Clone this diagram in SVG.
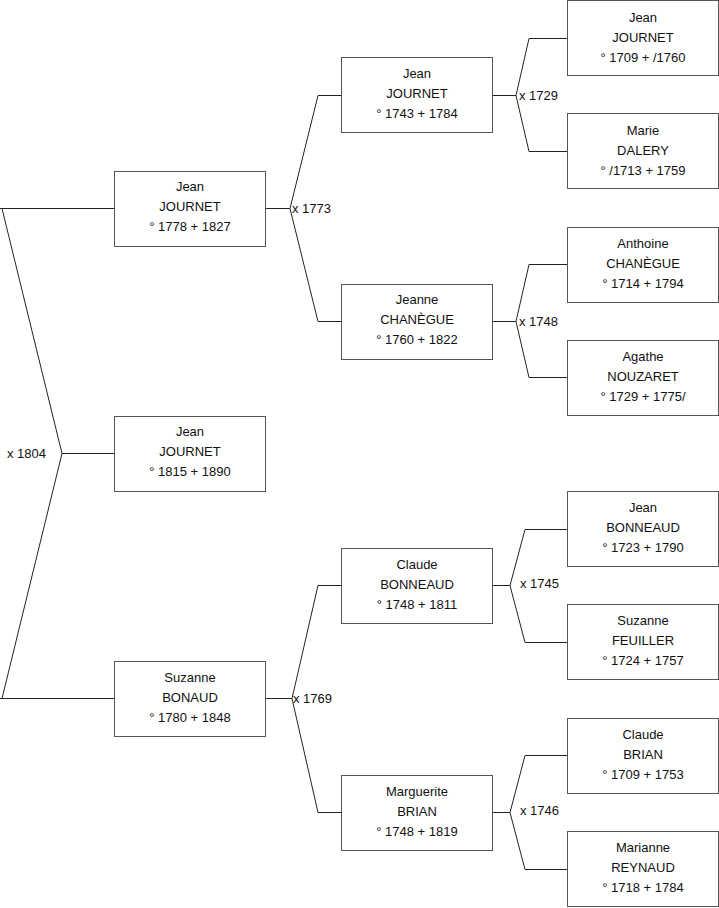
<svg xmlns="http://www.w3.org/2000/svg" width="719" height="908" viewBox="0 0 719 908">
<style>
.box rect{fill:#fff;stroke:#555;stroke-width:1}
.box text{font-family:"Liberation Sans",Arial,sans-serif;font-size:13px;fill:#111;text-anchor:middle}
.conn path{fill:none;stroke:#222;stroke-width:1}
.conn text{font-family:"Liberation Sans",Arial,sans-serif;font-size:13px;fill:#111}
</style>
<rect width="719" height="908" fill="#fff"/>
<g class="conn" id="connectors">
<path d="M0,208.5H114.5M2,208.5L62,453.5L2,698.5M0,698.5H114.5M62,453.5H114.5"/>
<text x="7" y="458">x 1804</text>
<path d="M265.5,208.5H290M318,95.5L290,208.5L318,321.5M318,95.5H341.5M318,321.5H341.5"/>
<text x="292" y="212.5">x 1773</text>
<path d="M265.5,698.5H292M318,585.5L292,698.5L318,812.5M318,585.5H341.5M318,812.5H341.5"/>
<text x="293" y="702.5">x 1769</text>
<path d="M492.5,95.5H516M529,38.5L516,95.5L529,151.5M529,38.5H567.5M529,151.5H567.5"/>
<text x="519" y="99.5">x 1729</text>
<path d="M492.5,321.5H516M529,264.5L516,321.5L529,377.5M529,264.5H567.5M529,377.5H567.5"/>
<text x="519" y="325.5">x 1748</text>
<path d="M492.5,585.5H510M525,529.5L510,585.5L525,642.5M525,529.5H567.5M525,642.5H567.5"/>
<text x="520" y="587.5">x 1745</text>
<path d="M492.5,812.5H510M525,755.5L510,812.5L525,869.5M525,755.5H567.5M525,869.5H567.5"/>
<text x="520" y="815">x 1746</text>
</g>
<g class="box" id="n-jean-1778"><rect x="114.5" y="171.5" width="151" height="75"/><text x="190" y="191">Jean</text><text x="190" y="211">JOURNET</text><text x="190" y="231">° 1778 + 1827</text></g>
<g class="box" id="n-jean-1815"><rect x="114.5" y="416.5" width="151" height="75"/><text x="190" y="436">Jean</text><text x="190" y="456">JOURNET</text><text x="190" y="476">° 1815 + 1890</text></g>
<g class="box" id="n-suzanne-1780"><rect x="114.5" y="661.5" width="151" height="75"/><text x="190" y="682">Suzanne</text><text x="190" y="702">BONAUD</text><text x="190" y="722">° 1780 + 1848</text></g>
<g class="box" id="n-jean-1743"><rect x="341.5" y="57.5" width="151" height="75"/><text x="417" y="77.5">Jean</text><text x="417" y="97.5">JOURNET</text><text x="417" y="117.5">° 1743 + 1784</text></g>
<g class="box" id="n-jeanne-1760"><rect x="341.5" y="284.5" width="151" height="75"/><text x="417" y="304">Jeanne</text><text x="417" y="324">CHANÈGUE</text><text x="417" y="344">° 1760 + 1822</text></g>
<g class="box" id="n-claude-1748"><rect x="341.5" y="548.5" width="151" height="75"/><text x="417" y="568.5">Claude</text><text x="417" y="588.5">BONNEAUD</text><text x="417" y="608.5">° 1748 + 1811</text></g>
<g class="box" id="n-marguerite-1748"><rect x="341.5" y="775.5" width="151" height="75"/><text x="417" y="795.5">Marguerite</text><text x="417" y="815.5">BRIAN</text><text x="417" y="835.5">° 1748 + 1819</text></g>
<g class="box" id="n-jean-1709"><rect x="567.5" y="0.5" width="151" height="75"/><text x="643" y="21.5">Jean</text><text x="643" y="41.5">JOURNET</text><text x="643" y="61.5">° 1709 + /1760</text></g>
<g class="box" id="n-marie-1713"><rect x="567.5" y="113.5" width="151" height="75"/><text x="643" y="134.5">Marie</text><text x="643" y="154.5">DALERY</text><text x="643" y="174.5">° /1713 + 1759</text></g>
<g class="box" id="n-anthoine-1714"><rect x="567.5" y="227.5" width="151" height="75"/><text x="643" y="248">Anthoine</text><text x="643" y="268">CHANÈGUE</text><text x="643" y="288">° 1714 + 1794</text></g>
<g class="box" id="n-agathe-1729"><rect x="567.5" y="340.5" width="151" height="75"/><text x="643" y="361">Agathe</text><text x="643" y="381">NOUZARET</text><text x="643" y="401">° 1729 + 1775/</text></g>
<g class="box" id="n-jean-1723"><rect x="567.5" y="491.5" width="151" height="75"/><text x="643" y="512">Jean</text><text x="643" y="532">BONNEAUD</text><text x="643" y="552">° 1723 + 1790</text></g>
<g class="box" id="n-suzanne-1724"><rect x="567.5" y="604.5" width="151" height="75"/><text x="643" y="625">Suzanne</text><text x="643" y="645">FEUILLER</text><text x="643" y="665">° 1724 + 1757</text></g>
<g class="box" id="n-claude-1709"><rect x="567.5" y="718.5" width="151" height="75"/><text x="643" y="738.5">Claude</text><text x="643" y="758.5">BRIAN</text><text x="643" y="778.5">° 1709 + 1753</text></g>
<g class="box" id="n-marianne-1718"><rect x="567.5" y="831.5" width="151" height="75"/><text x="643" y="852">Marianne</text><text x="643" y="872">REYNAUD</text><text x="643" y="892">° 1718 + 1784</text></g>
</svg>
